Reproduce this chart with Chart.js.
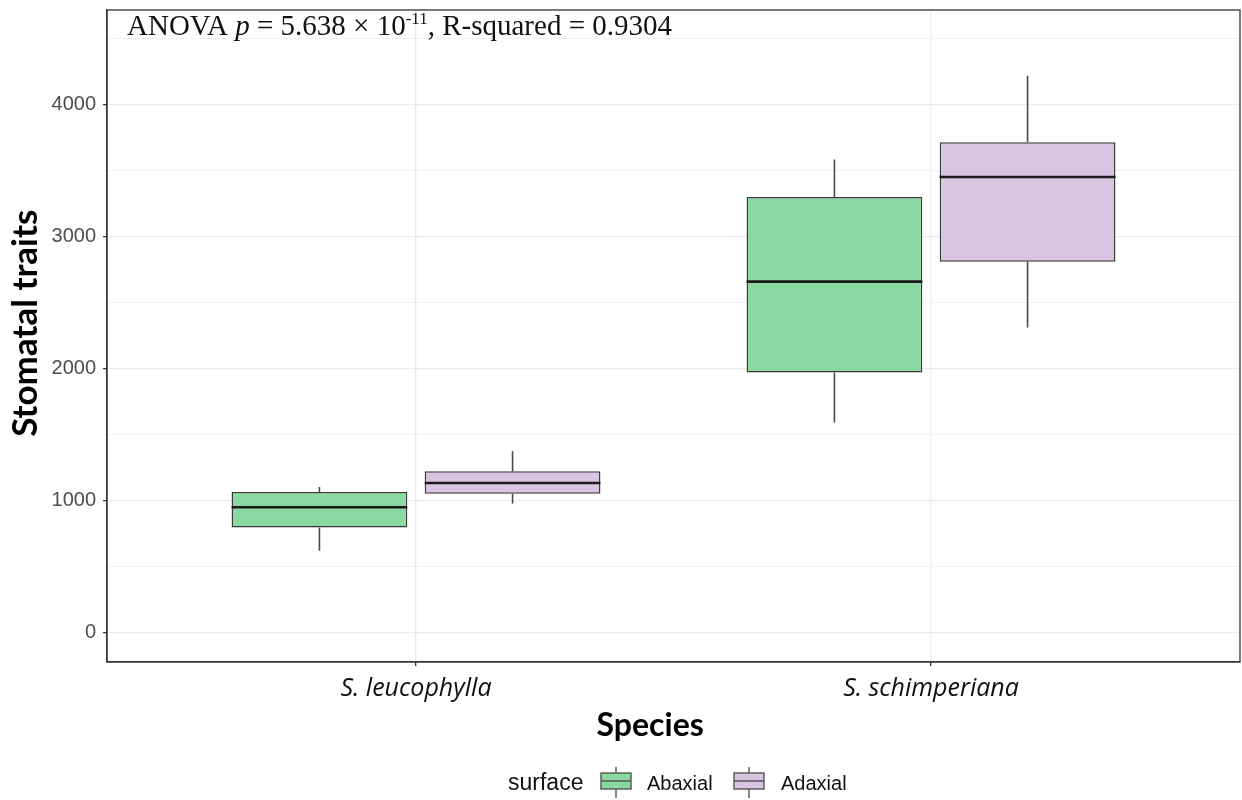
<!DOCTYPE html>
<html>
<head>
<meta charset="utf-8">
<script src="https://cdn.jsdelivr.net/npm/chart.js@4.4.1/dist/chart.umd.min.js"></script>
<style>
html, body { margin: 0; padding: 0; background: #ffffff; }
#wrap { width: 1242px; height: 800px; position: relative; }
</style>
</head>
<body>
<div id="wrap"><canvas id="c" width="1242" height="800"></canvas></div>
<script>
// ---- data ----
const categories = ['S. leucophylla', 'S. schimperiana'];
const surfaces = ['Abaxial', 'Adaxial'];
const abaxialMin    = [620, 1591];
const abaxialQ1     = [795, 1970];
const abaxialMedian = [949, 2660];
const abaxialQ3     = [1065, 3302];
const abaxialMax    = [1103, 3585];
const adaxialMin    = [977, 2311];
const adaxialQ1     = [1052, 2811];
const adaxialMedian = [1133, 3453];
const adaxialQ3     = [1222, 3716];
const adaxialMax    = [1374, 4221];
const yTickValues = [0, 500, 1000, 1500, 2000, 2500, 3000, 3500, 4000, 4500];
const yLabelledTicks = [0, 1000, 2000, 3000, 4000];
const yRange = [-224, 4719];
const xRange = [0.4, 2.6];

const fillColors = ['rgba(139,217,162,1)', 'rgba(217,196,226,1)'];
const edgeColor = '#3a3a3a';

function boxData(q1, q3) {
  return categories.map((c, i) => ({ x: i + 1, y: [q1[i], q3[i]] }));
}

const boxPlugin = {
  id: 'boxParts',
  beforeDatasetsDraw(chart) {
    const ctx = chart.ctx;
    const ys = chart.scales.y;
    ctx.save();
    chart.data.datasets.forEach((ds, di) => {
      const meta = chart.getDatasetMeta(di);
      meta.data.forEach((bar, i) => {
        const p = bar.getProps(['x'], true);
        ctx.strokeStyle = '#4a4a4a';
        ctx.lineWidth = 1.6;
        ctx.beginPath();
        ctx.moveTo(p.x, ys.getPixelForValue(ds.q3s[i]));
        ctx.lineTo(p.x, ys.getPixelForValue(ds.maxs[i]));
        ctx.moveTo(p.x, ys.getPixelForValue(ds.q1s[i]));
        ctx.lineTo(p.x, ys.getPixelForValue(ds.mins[i]));
        ctx.stroke();
      });
    });
    ctx.restore();
  },
  afterDatasetsDraw(chart) {
    const ctx = chart.ctx;
    const ys = chart.scales.y;
    ctx.save();
    chart.data.datasets.forEach((ds, di) => {
      const meta = chart.getDatasetMeta(di);
      meta.data.forEach((bar, i) => {
        const p = bar.getProps(['x', 'width'], true);
        const ym = ys.getPixelForValue(ds.medians[i]);
        ctx.strokeStyle = '#1a1a1a';
        ctx.lineWidth = 2.6;
        ctx.beginPath();
        ctx.moveTo(p.x - p.width / 2, ym);
        ctx.lineTo(p.x + p.width / 2, ym);
        ctx.stroke();
      });
    });
    // panel border
    const a = chart.chartArea;
    ctx.strokeStyle = '#333333';
    ctx.lineWidth = 1.3;
    ctx.strokeRect(a.left, a.top, a.right - a.left, a.bottom - a.top);
    ctx.restore();
  },
  afterDraw(chart) {
    const ctx = chart.ctx;
    const a = chart.chartArea;
    ctx.save();
    // annotation
    ctx.fillStyle = '#111111';
    ctx.textBaseline = 'alphabetic';
    ctx.textAlign = 'left';
    const fs = 29;
    const base = a.top + 25;
    let x = a.left + 20;
    const parts = [
      ['ANOVA ', 'normal', fs, 0],
      ['p', 'italic', fs, 0],
      [' = 5.638 \u00d7 10', 'normal', fs, 0],
      ['-11', 'normal', 17, -11],
      [', R-squared = 0.9304', 'normal', fs, 0]
    ];
    parts.forEach(([t, st, size, dy]) => {
      ctx.font = st + ' ' + size + 'px "Liberation Serif", serif';
      ctx.fillText(t, x, base + dy);
      x += ctx.measureText(t).width;
    });
    // legend
    const ly = 784;
    ctx.font = '23px "Liberation Sans", Arial, sans-serif';
    ctx.fillStyle = '#111111';
    ctx.textBaseline = 'middle';
    ctx.fillText('surface', 508, ly);
    const keyX = [601, 734];
    const textX = [647, 781];
    surfaces.forEach((s, i) => {
      const kx = keyX[i];
      ctx.fillStyle = fillColors[i];
      ctx.fillRect(kx, 773, 30, 16);
      ctx.strokeStyle = '#555555';
      ctx.lineWidth = 1.4;
      ctx.strokeRect(kx, 773, 30, 16);
      ctx.beginPath();
      ctx.moveTo(kx + 15, 767); ctx.lineTo(kx + 15, 773);
      ctx.moveTo(kx + 15, 789); ctx.lineTo(kx + 15, 798);
      ctx.moveTo(kx, 781); ctx.lineTo(kx + 30, 781);
      ctx.stroke();
      ctx.fillStyle = '#111111';
      ctx.font = '20px "Liberation Sans", Arial, sans-serif';
      ctx.fillText(s, textX[i], ly);
    });
    ctx.restore();
  }
};

const chart = new Chart(document.getElementById('c'), {
  type: 'bar',
  data: {
    datasets: [
      {
        label: surfaces[0],
        data: boxData(abaxialQ1, abaxialQ3),
        q1s: abaxialQ1, q3s: abaxialQ3, mins: abaxialMin, maxs: abaxialMax, medians: abaxialMedian,
        backgroundColor: fillColors[0],
        borderColor: edgeColor,
        borderWidth: 1.5,
        borderSkipped: false,
        categoryPercentage: 0.75,
        barPercentage: 0.91
      },
      {
        label: surfaces[1],
        data: boxData(adaxialQ1, adaxialQ3),
        q1s: adaxialQ1, q3s: adaxialQ3, mins: adaxialMin, maxs: adaxialMax, medians: adaxialMedian,
        backgroundColor: fillColors[1],
        borderColor: edgeColor,
        borderWidth: 1.5,
        borderSkipped: false,
        categoryPercentage: 0.75,
        barPercentage: 0.91
      }
    ]
  },
  options: {
    responsive: false,
    animation: false,
    layout: { padding: { top: 10, right: 2, left: 0, bottom: 55 } },
    plugins: { legend: { display: false }, tooltip: { enabled: false } },
    scales: {
      x: {
        type: 'linear',
        min: xRange[0],
        max: xRange[1],
        offset: false,
        afterBuildTicks(scale) { scale.ticks = categories.map((c, i) => ({ value: i + 1 })); },
        afterFit(scale) { scale.height = 83; scale.paddingLeft = 0; scale.paddingRight = 0; },
        ticks: {
          callback: (v) => categories[Math.round(v) - 1],
          font: { family: '"Open Sans"', style: 'italic', size: 25 },
          color: '#111111',
          padding: 8,
          maxRotation: 0,
          autoSkip: false
        },
        grid: { offset: false, color: '#EBEBEB', lineWidth: 1.3, tickLength: 4, tickColor: '#333333' },
        border: { display: true, color: '#333333', width: 1.3 },
        title: {
          display: true,
          text: 'Species      ',
          font: { family: 'Lato', weight: 'bold', size: 32 },
          color: '#000000',
          padding: { top: 0, bottom: 0 }
        }
      },
      y: {
        type: 'linear',
        min: yRange[0],
        max: yRange[1],
        afterBuildTicks(scale) { scale.ticks = yTickValues.map(v => ({ value: v })); },
        afterFit(scale) { scale.width = 107; scale.paddingTop = 0; scale.paddingBottom = 0; },
        ticks: {
          callback: (v) => yLabelledTicks.includes(v) ? String(v) : '',
          font: { family: '"Liberation Sans"', size: 20 },
          color: '#4D4D4D',
          padding: 7,
          autoSkip: false
        },
        grid: {
          color: (c) => (c.tick && yLabelledTicks.includes(c.tick.value)) ? '#EBEBEB' : '#F1F1F1',
          lineWidth: (c) => (c.tick && yLabelledTicks.includes(c.tick.value)) ? 1.3 : 1,
          tickLength: 4,
          tickColor: (c) => (c.tick && yLabelledTicks.includes(c.tick.value)) ? '#333333' : 'rgba(0,0,0,0)'
        },
        border: { display: true, color: '#333333', width: 1.3 },
        title: {
          display: true,
          text: '   Stomatal traits',
          font: { family: 'Lato', weight: 'bold', size: 35 },
          color: '#000000',
          padding: { top: 5, bottom: 0 }
        }
      }
    }
  },
  plugins: [boxPlugin]
});
</script>
</body>
</html>
